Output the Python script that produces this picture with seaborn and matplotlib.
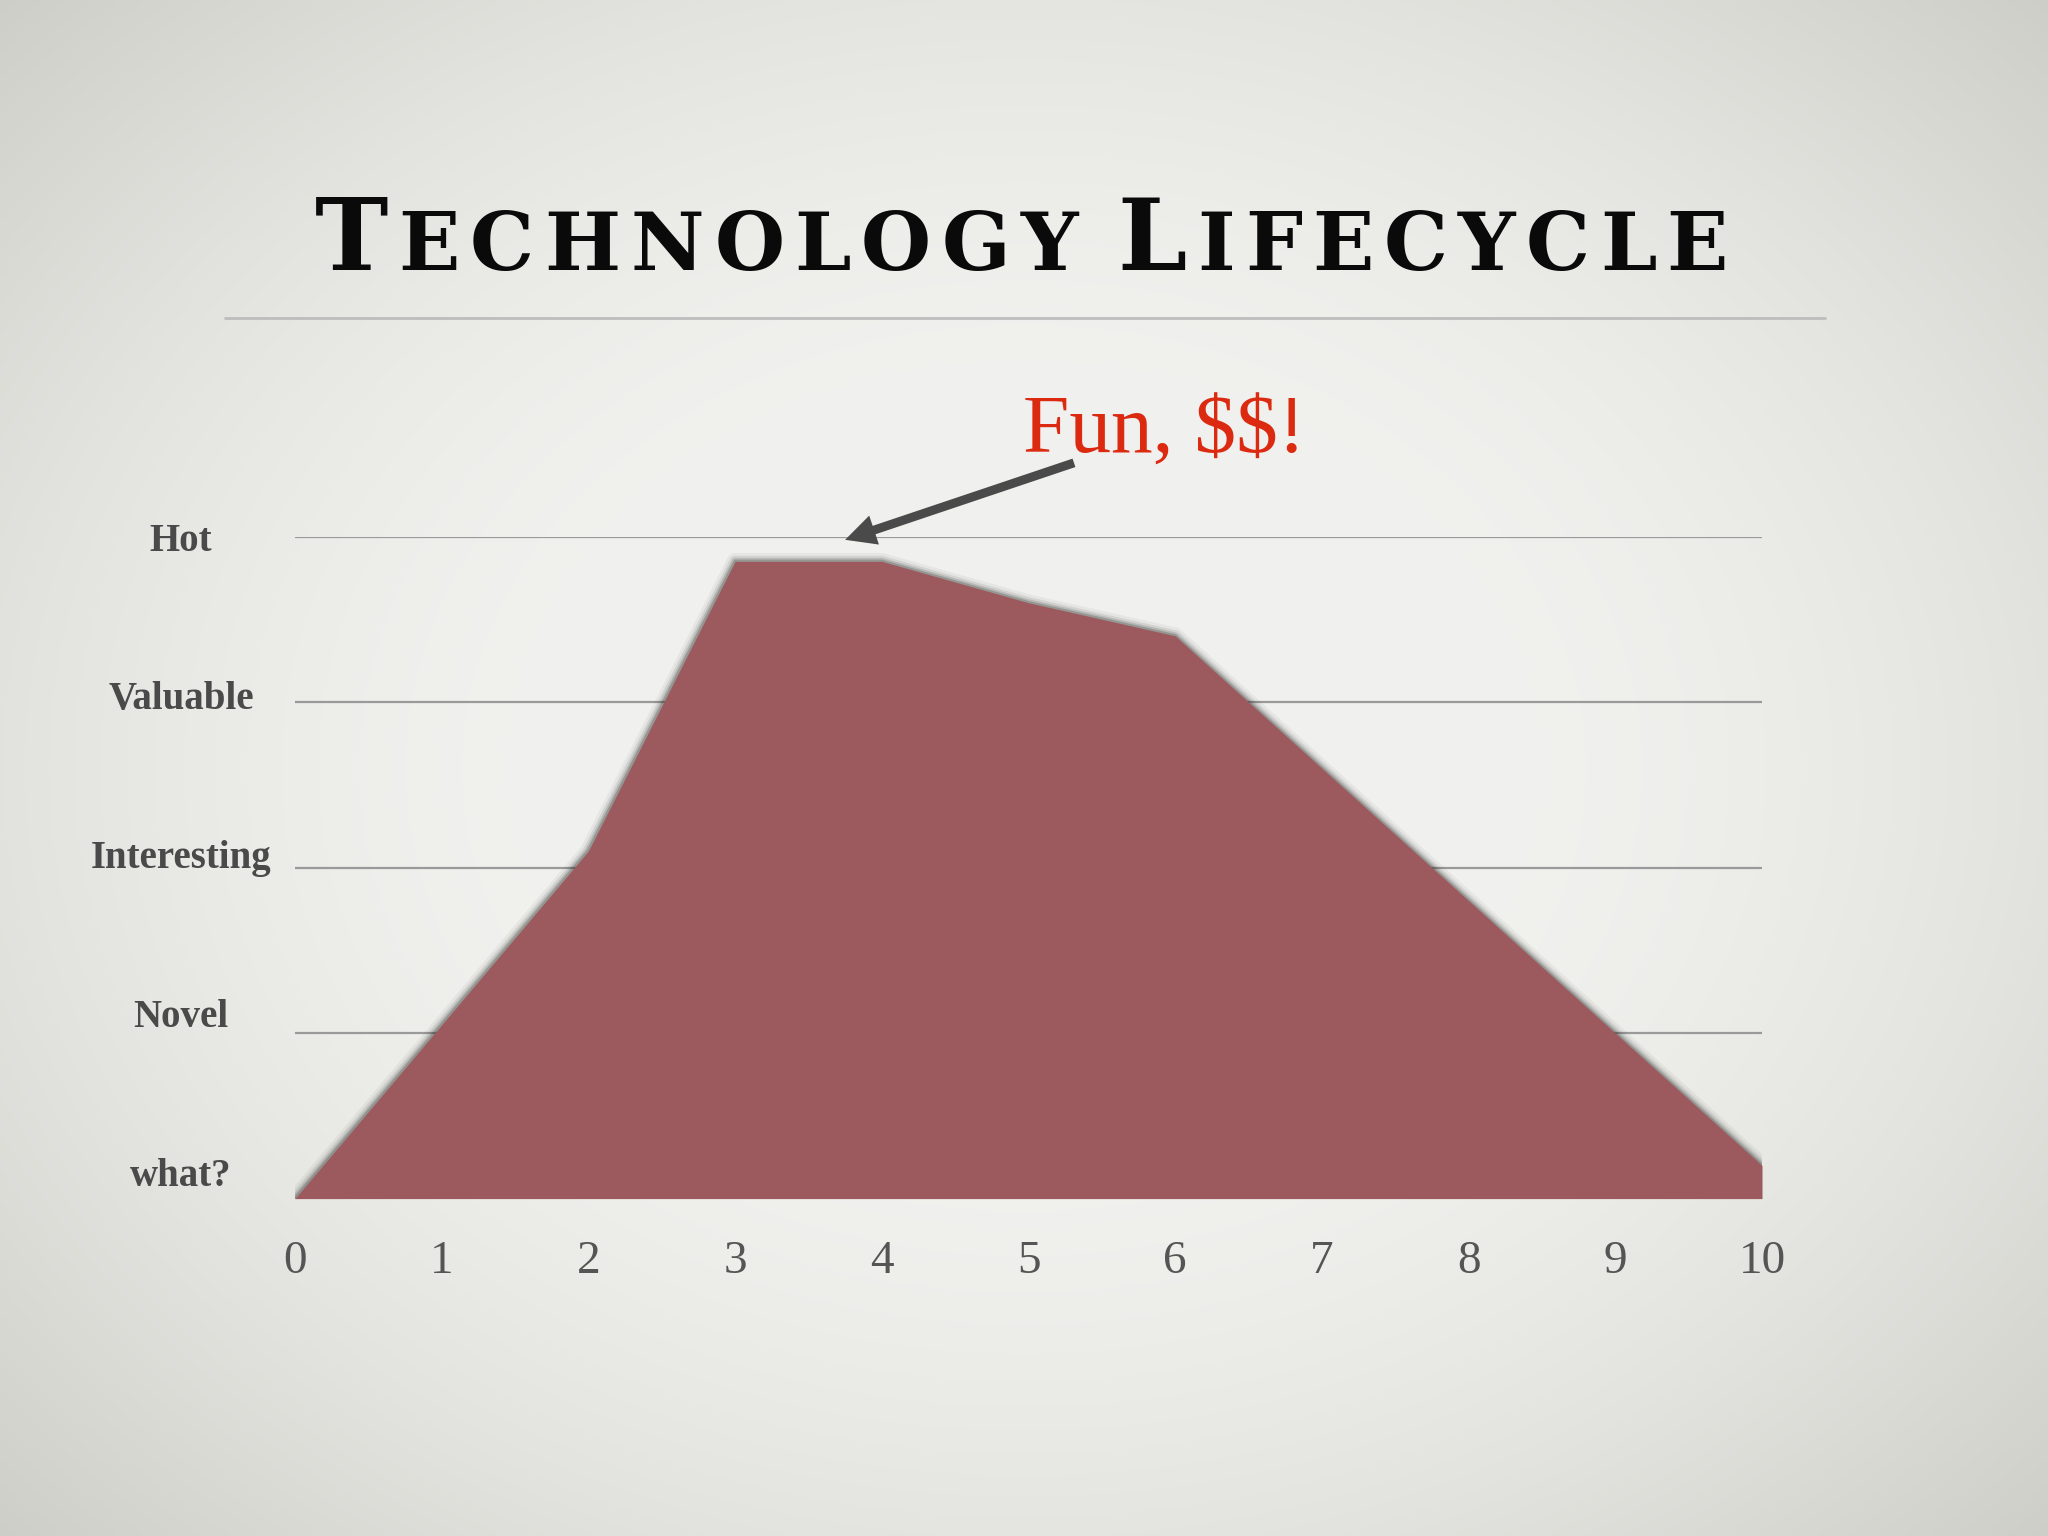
import numpy as np
import pandas as pd
import matplotlib
matplotlib.use("Agg")
import matplotlib.pyplot as plt
from matplotlib.lines import Line2D
import seaborn as sns

# values
stages = list(range(11))
hype = [0, 1.05, 2.1, 3.85, 3.85, 3.6, 3.4, 2.6, 1.8, 1.0, 0.2]
level_names = ["what?", "Novel", "Interesting", "Valuable", "Hot"]
grid_levels = [1, 2, 3, 4]
title_words = ["Technology", "Lifecycle"]
callout = "Fun, $$!"

sns.set_theme(style="white")
plt.rcParams["font.family"] = ["Liberation Serif", "DejaVu Serif"]

W, H = 2048, 1536
fig = plt.figure(figsize=(W / 100, H / 100), dpi=100)

# vignette paper background
bg = fig.add_axes([0, 0, 1, 1], zorder=-10)
yy, xx = np.mgrid[-1:1:300j, -1:1:400j]
r = np.sqrt(xx ** 2 + (yy * 0.95) ** 2)
shade = np.clip((r - 0.45) / 0.97, 0, 1) ** 1.6
base = np.array([0.945, 0.945, 0.935])
edge = np.array([0.80, 0.80, 0.775])
img = base + (edge - base) * shade[..., None]
bg.imshow(img, aspect="auto", extent=[0, 1, 0, 1], interpolation="bilinear")
bg.axis("off")

# rule under the title
fig.add_artist(Line2D([225 / W, 1825 / W], [1 - 317.7 / H] * 2,
                      color="#bdbdbd", lw=2.0))

ax = fig.add_axes([295 / W, 1 - 1198.6 / H, (1762 - 295) / W, (1198.6 - 536.5) / H])
ax.set_facecolor("none")
ax.set_xlim(0, 10)
ax.set_ylim(0, 4)

for lv in grid_levels:
    ax.axhline(lv, color="#9a9a9a", lw=1.6, zorder=1)

df = pd.DataFrame({"stage": stages + [10], "level": hype + [0]})

# soft dark halo around the area
for lw, a in [(12, 0.05), (8, 0.09), (5, 0.14), (2.5, 0.22)]:
    sns.lineplot(data=df, x="stage", y="level", ax=ax, sort=False, estimator=None,
                 color="#1a1f1a", linewidth=lw, alpha=a, zorder=2, legend=False)

ax.fill_between(stages, hype, 0, color="#9d5a5e", lw=0, zorder=3)

ax.set_xticks(stages)
ax.set_xticklabels([str(s) for s in stages])
ax.tick_params(axis="x", length=0, pad=30, labelsize=34, labelcolor="#555555")
ax.set_yticks(np.linspace(0.16, 4.0, 5))
ax.set_yticklabels(level_names, fontweight="bold")
ax.tick_params(axis="y", length=0, pad=82, labelsize=28, labelcolor="#4a4a4a")
for t in ax.get_yticklabels():
    t.set_horizontalalignment("center")
ax.set_xlabel("")
ax.set_ylabel("")
ax.grid(False)
sns.despine(ax=ax, left=True, bottom=True)

# callout
ax.annotate("", xy=(3.75, 3.98), xytext=(5.31, 4.445),
            arrowprops=dict(arrowstyle="simple,head_length=1.1,head_width=1.1,tail_width=0.32",
                            color="#4a4a4a", lw=0, mutation_scale=20,
                            shrinkA=0, shrinkB=0),
            annotation_clip=False, zorder=5)
ax.text(4.96, 4.505, callout, color="#dc2a10", fontsize=60, parse_math=False,
        ha="left", va="baseline", clip_on=False)

# small-caps title, letter by letter
renderer = fig.canvas.get_renderer()
pieces = []
for wi, word in enumerate(title_words):
    for ci, ch in enumerate(word.upper()):
        size = 71 if ci == 0 else 58
        t = fig.text(0, 1 - 270 / H, ch, fontsize=size, fontweight="bold",
                     family="DejaVu Serif", color="#0a0a0a", ha="left", va="baseline")
        pieces.append([t, t.get_window_extent(renderer).width, wi])

space_w = 30
left, right = 315, 1728
natural = sum(p[1] for p in pieces) + space_w
track = (right - left - natural) / (len(pieces) - 1)
xpos = left
prev_word = 0
for t, w, wi in pieces:
    if wi != prev_word:
        xpos += space_w
        prev_word = wi
    t.set_x(xpos / W)
    xpos += w + track

fig.savefig("out.png", dpi=100)
